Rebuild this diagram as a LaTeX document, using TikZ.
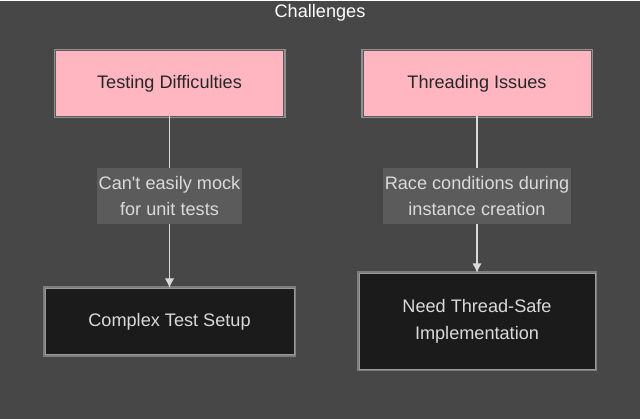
\documentclass[tikz,border=0pt]{standalone}
\usepackage{fontspec}
\setmainfont{Liberation Sans}
\usetikzlibrary{arrows.meta}

\definecolor{bgGray}{HTML}{474747}
\definecolor{boxPink}{HTML}{FFB6C1}
\definecolor{boxDark}{HTML}{1B1B1B}
\definecolor{lblGray}{HTML}{5B5B5B}
\definecolor{txtLight}{HTML}{DADADA}

\begin{document}
\begin{tikzpicture}[x=0.75pt, y=-0.75pt, font=\fontsize{13.6}{20}\selectfont,
      problem/.style={rectangle, fill=boxPink, draw=black!65, text=black!85,
         minimum width=171pt, minimum height=49pt,
         preaction={draw=white, line width=3pt, opacity=0.4}},
      effect/.style={rectangle, fill=boxDark, draw=gray!80, text=txtLight, align=center,
         preaction={draw=white, line width=3pt, opacity=0.3}},
      reason/.style={rectangle, fill=lblGray, text=txtLight, align=center,
         inner xsep=1pt, inner ysep=0pt, minimum height=42pt},
      link/.style={draw=txtLight, line width=1pt},
      node distance=84.4pt]

      % backdrop, fixes the page size
      \fill[bgGray] (0,0) rectangle (640,418);

      \node[text=white, name=title] at (320,12) {Challenges};

      % left column
      \node[problem, name=tl] at (169.5,82.5) {Testing Difficulties};
      \node[reason, name=ll, below of=tl] {Can\textquotesingle t easily mock\\for unit tests};
      \node[effect, name=dl, below of=ll, node distance=94.1pt,
         minimum width=187pt, minimum height=50pt] {Complex Test Setup};

      % right column
      \node[problem, name=tr] at (477,82.5) {Threading Issues};
      \node[reason, name=lr, below of=tr] {Race conditions during\\instance creation};
      \node[effect, name=dr, below of=lr, node distance=93.8pt,
         minimum width=177pt, minimum height=72pt] {Need Thread-Safe\\Implementation};

      \path[-]
         (tl) edge[link] (ll)
         (ll) edge[link, -{Latex[length=7pt, width=7pt]}] (dl)
         (tr) edge[link] (lr)
         (lr) edge[link, -{Latex[length=7pt, width=7pt]}] (dr);
   \end{tikzpicture}
\end{document}
